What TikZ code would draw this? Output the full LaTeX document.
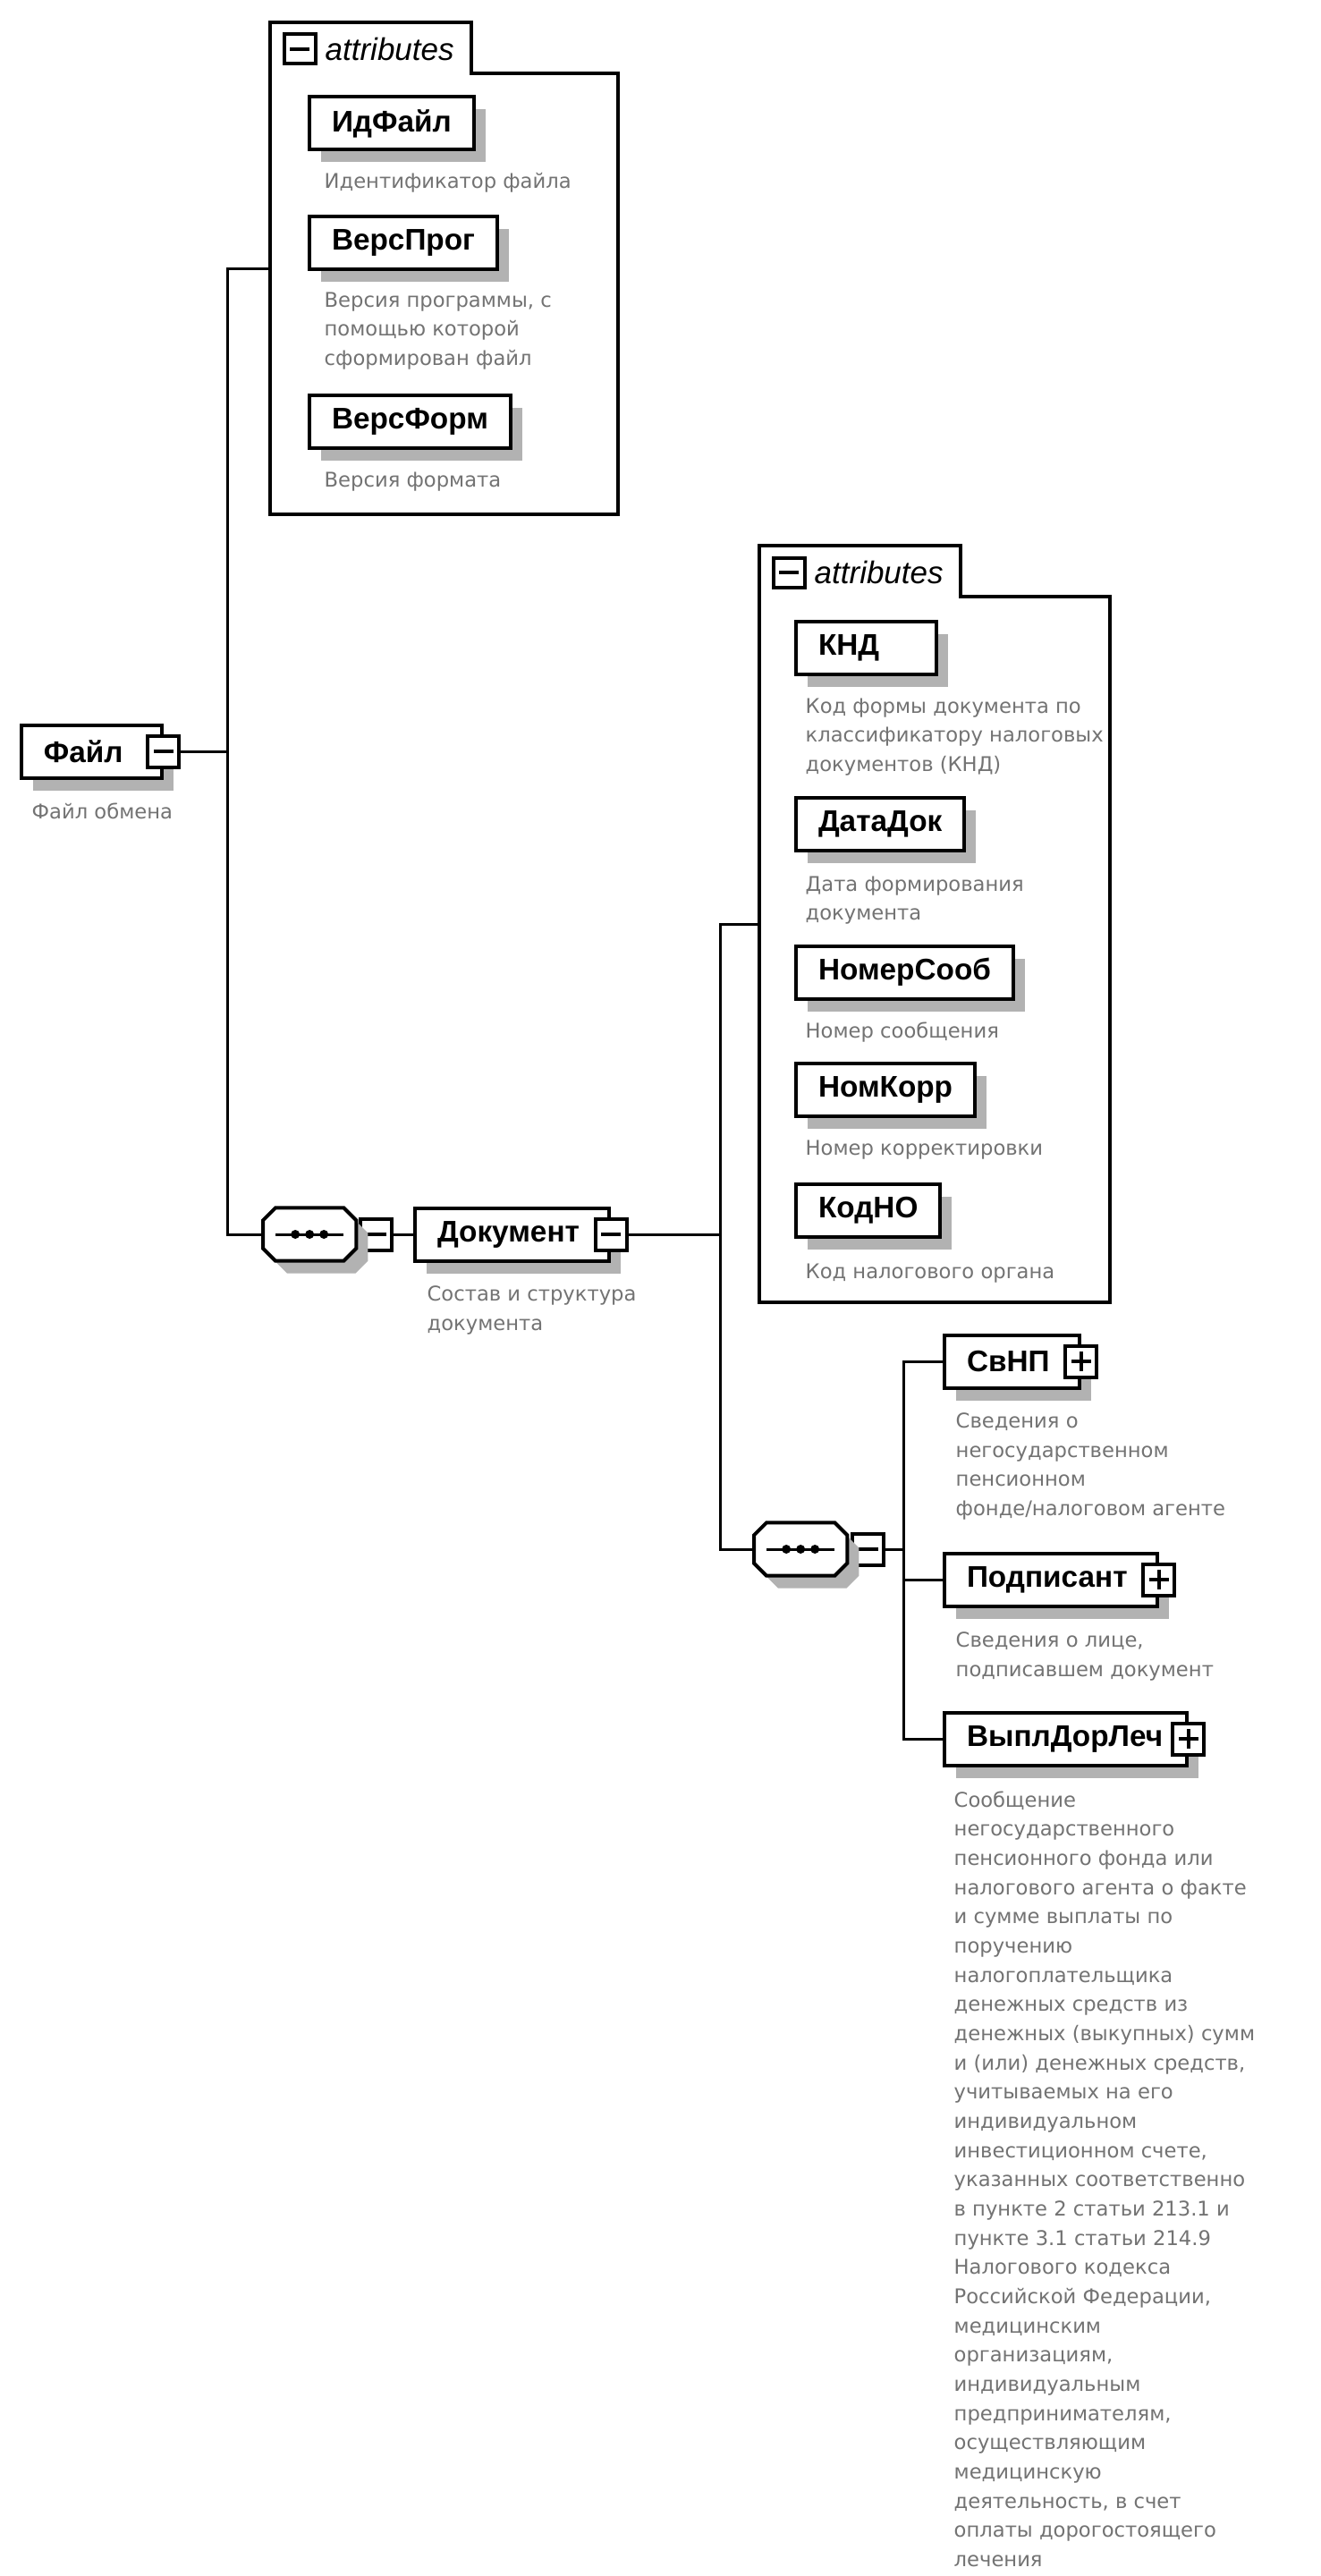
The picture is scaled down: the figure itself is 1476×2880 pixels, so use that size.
\documentclass[tikz,border=0pt]{standalone}
\usepackage{fontspec}
\setmainfont{Liberation Sans}
\newfontfamily\descfam{DejaVu Sans}
\usetikzlibrary{shadows}

\newcommand\elemfont{\bfseries\fontsize{10pt}{12pt}\selectfont}
\newcommand\descfont{\descfam\fontsize{6.8pt}{9.8pt}\selectfont}
\newcommand\attrfont{\itshape\fontsize{10.5pt}{12pt}\selectfont}
\newcommand\xpad[1]{\hspace*{#1}\mbox{}}

\begin{document}
\begin{tikzpicture}[x=0.3pt, y=-0.3pt,
		conn/.style={line width=0.9pt},
		grpline/.style={line width=1.2pt},
		grp/.style={shape=rectangle, inner sep=0pt, anchor=north west},
		boxshadow/.style={drop shadow={shadow xshift=3.9pt, shadow yshift=-4.2pt, fill=black!30, opacity=1}},
		elem/.style={shape=rectangle, draw, line width=1.2pt, fill=white, font=\elemfont, minimum height=17.7pt, inner xsep=7.5pt, inner ysep=0pt, anchor=west, boxshadow},
		xbox/.style={shape=rectangle, draw, line width=1.2pt, fill=white, minimum width=10.5pt, minimum height=10.5pt, inner sep=0pt},
		minusbox/.style={xbox, path picture={
				\draw[line width=1pt] ([xshift=2pt]path picture bounding box.west) -- ([xshift=-2pt]path picture bounding box.east);}},
		plusbox/.style={xbox, path picture={
				\draw[line width=1pt] ([xshift=2pt]path picture bounding box.west) -- ([xshift=-2pt]path picture bounding box.east);
				\draw[line width=1pt] ([yshift=-2pt]path picture bounding box.north) -- ([yshift=2pt]path picture bounding box.south);}},
		seqbox/.style={shape=rectangle, minimum width=30.9pt, minimum height=17.4pt, inner sep=0pt, anchor=west},
		desc/.style={anchor=north west, inner sep=0pt, align=left, font=\descfont, text=black!55},
		attr/.style={anchor=west, inner sep=0pt, font=\attrfont}
	]
	\fill[white] (0,0) rectangle (1476,2880);
	\useasboundingbox (0,0) rectangle (1476,2880);
	
	\node (grp1)[grp, minimum width=116.4pt, minimum height=164.7pt] at (302,25) {};
	\draw[grpline] (grp1.north west) -- ++(225,0) |- ([yshift=-17.1pt]grp1.north east) -- (grp1.south east) -- (grp1.south west) -- cycle;
	\node (grp1x)[minusbox, minimum height=9.9pt] at (335,55) {};
	\node (grp1t)[attr] at (363,55) {attributes};
	
	\node (grp2)[grp, minimum width=117.3pt, minimum height=253.5pt] at (849,610) {};
	\draw[grpline] (grp2.north west) -- ++(225,0) |- ([yshift=-17.1pt]grp2.north east) -- (grp2.south east) -- (grp2.south west) -- cycle;
	\node (grp2x)[minusbox, minimum height=9.9pt] at (882,640) {};
	\node (grp2t)[attr] at (910,640) {attributes};
	
	\node (fajl)[elem] at (22,840) {Файл\xpad{5.5pt}};
	\node (fajlx)[minusbox] at (fajl.east) {};
	\node (fajld)[desc] at (35,897) {Файл обмена};
	
	\node (idf)[elem] at (344,138) {ИдФайл};
	\node (idfd)[desc] at (362,193) {Идентификатор файла};
	\node (vprog)[elem] at (344,271) {ВерсПрог};
	\node (vprogd)[desc] at (362,326) {Версия программы, с\\помощью которой\\сформирован файл};
	\node (vform)[elem] at (344,471) {ВерсФорм};
	\node (vformd)[desc] at (362,527) {Версия формата};
	
	\node (seq1)[seqbox] at (294,1380) {};
	\node (seq1x)[minusbox, anchor=west] at ([xshift=0.9pt]seq1.east) {};
	
	\node (doc)[elem] at (462,1380) {Документ\xpad{2.5pt}};
	\node (docx)[minusbox] at (doc.east) {};
	\node (docd)[desc] at (477,1437) {Состав и структура\\документа};
	
	\node (knd)[elem, text width=32.1pt, align=left] at (888,724) {КНД};
	\node (kndd)[desc] at (900,780) {Код формы документа по\\классификатору налоговых\\документов (КНД)};
	\node (data)[elem] at (888,921) {ДатаДок};
	\node (datad)[desc] at (900,979) {Дата формирования\\документа};
	\node (nsoob)[elem] at (888,1087) {НомерСооб};
	\node (nsoobd)[desc] at (900,1142) {Номер сообщения};
	\node (nkorr)[elem] at (888,1218) {НомКорр};
	\node (nkorrd)[desc] at (900,1274) {Номер корректировки};
	\node (kodno)[elem] at (888,1353) {КодНО};
	\node (kodnod)[desc] at (900,1412) {Код налогового органа};
	
	\node (seq2)[seqbox] at (843,1732) {};
	\node (seq2x)[minusbox, anchor=west] at ([xshift=1.2pt]seq2.east) {};
	
	\foreach \s in {seq1,seq2} {
		\draw[line width=1.2pt, fill=white, boxshadow] ([xshift=4.2pt]\s.north west) -- ([xshift=-4.2pt]\s.north east) -- ([yshift=-4.2pt]\s.north east) -- ([yshift=4.2pt]\s.south east) -- ([xshift=-4.2pt]\s.south east) -- ([xshift=4.2pt]\s.south west) -- ([yshift=4.2pt]\s.south west) -- ([yshift=-4.2pt]\s.north west) -- cycle;
		\draw[line width=0.9pt] ([xshift=-11.4pt]\s.center) -- ([xshift=11.4pt]\s.center);
		\foreach \dx in {-4.8,0,4.8} \fill[black] ([xshift=\dx pt]\s.center) circle (1.5pt);
	}
	
	\node (svnp)[elem] at (1054,1522) {СвНП\xpad{2.5pt}};
	\node (svnpx)[plusbox] at (svnp.east) {};
	\node (svnpd)[desc] at (1068,1579) {Сведения о\\негосударственном\\пенсионном\\фонде/налоговом агенте};
	
	\node (podp)[elem] at (1054,1766) {Подписант\xpad{2.5pt}};
	\node (podpx)[plusbox] at (podp.east) {};
	\node (podpd)[desc] at (1068,1824) {Сведения о лице,\\подписавшем документ};
	
	\node (vypl)[elem] at (1054,1944) {ВыплДорЛеч\xpad{0.5pt}};
	\node (vyplx)[plusbox] at (vypl.east) {};
	\node (vypld)[desc] at (1066,2002) {Сообщение\\негосударственного\\пенсионного фонда или\\налогового агента о факте\\и сумме выплаты по\\поручению\\налогоплательщика\\денежных средств из\\денежных (выкупных) сумм\\и (или) денежных средств,\\учитываемых на его\\индивидуальном\\инвестиционном счете,\\указанных соответственно\\в пункте 2 статьи 213.1 и\\пункте 3.1 статьи 214.9\\Налогового кодекса\\Российской Федерации,\\медицинским\\организациям,\\индивидуальным\\предпринимателям,\\осуществляющим\\медицинскую\\деятельность, в счет\\оплаты дорогостоящего\\лечения};
	
	\coordinate (tr1) at (254,840);
	\coordinate (tr2) at (805,1380);
	\coordinate (tr3) at (1010,1732);
	
	\draw[conn] (fajlx.east) -- (tr1);
	\draw[conn] (grp1.west) -| (tr1) |- (seq1.west);
	\draw[conn] (seq1x.east) -- (doc.west);
	\draw[conn] (docx.east) -- (tr2);
	\draw[conn] (grp2.west) -| (tr2) |- (seq2.west);
	\draw[conn] (seq2x.east) -- (tr3);
	\draw[conn] (svnp.west) -| (tr3) |- (vypl.west);
	\draw[conn] (tr3 |- podp.west) -- (podp.west);
\end{tikzpicture}
\end{document}
